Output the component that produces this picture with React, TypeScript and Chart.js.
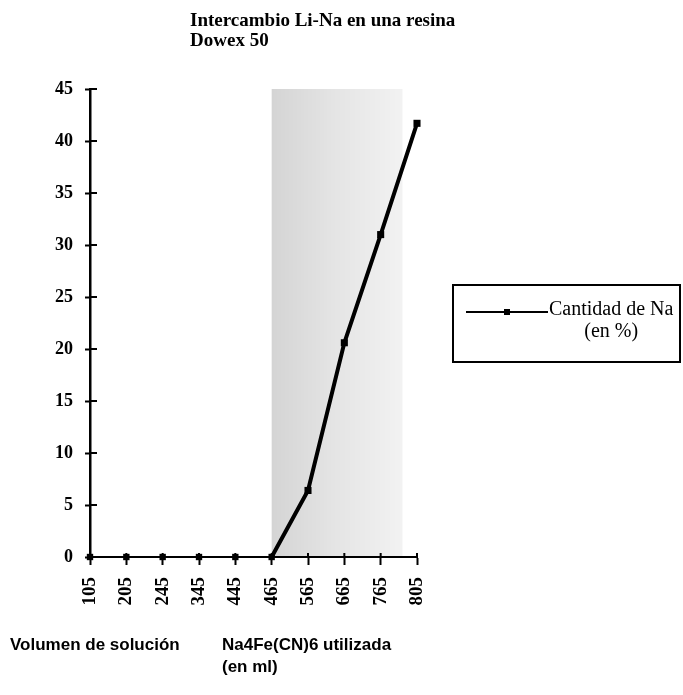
import { useEffect, useRef } from "react";
import { Chart, registerables } from "chart.js";

Chart.register(...registerables);

const categories = ["105", "205", "245", "345", "445", "465", "565", "665", "765", "805"];
const naPercent = [0, 0, 0, 0, 0, 0, 6.4, 20.6, 31, 41.7];
const yMin = 0;
const yMax = 45;
const yStep = 5;
const titleLines = ["Intercambio Li-Na en una resina", "Dowex 50"];
const legendLines = ["Cantidad de Na", "(en %)"];
const xTitleLeft = "Volumen de solución";
const xTitleRight = ["Na4Fe(CN)6 utilizada", "(en ml)"];
// shaded (scanned grey) band, in category-index units
const shadeFrom = 5;
const shadeTo = 8.6;

const W = 683;
const H = 695;

export default function App() {
  const ref = useRef<HTMLCanvasElement | null>(null);

  useEffect(() => {
    const canvas = ref.current;
    if (!canvas) return;

    const shadePlugin = {
      id: "shade",
      beforeDatasetsDraw(chart: any) {
        const { ctx, scales } = chart;
        const x = scales.x;
        const y = scales.y;
        const x0 = x.getPixelForValue(shadeFrom);
        const x1 = x.getPixelForValue(shadeTo);
        const y0 = y.getPixelForValue(yMax);
        const y1 = y.getPixelForValue(yMin);
        const g = ctx.createLinearGradient(x0, 0, x1, 0);
        g.addColorStop(0, "rgba(0,0,0,0.17)");
        g.addColorStop(0.5, "rgba(0,0,0,0.10)");
        g.addColorStop(1, "rgba(0,0,0,0.05)");
        ctx.save();
        ctx.fillStyle = g;
        ctx.fillRect(x0, y0, x1 - x0, y1 - y0);
        ctx.restore();
      },
      afterDraw(chart: any) {
        // inner half of the crossing tick marks
        const { ctx, scales } = chart;
        const x = scales.x;
        const y = scales.y;
        ctx.save();
        ctx.strokeStyle = "#000";
        ctx.lineWidth = 2;
        ctx.beginPath();
        const ax = x.left;
        for (let v = yMin; v <= yMax; v += yStep) {
          const py = y.getPixelForValue(v);
          ctx.moveTo(ax, py);
          ctx.lineTo(ax + 7, py);
        }
        const ay = y.bottom;
        for (let i = 0; i < categories.length; i++) {
          const px = x.getPixelForValue(i);
          ctx.moveTo(px, ay);
          ctx.lineTo(px, ay - 4);
        }
        ctx.stroke();
        ctx.restore();
      },
    };

    const chart = new Chart(canvas, {
      type: "line",
      data: {
        labels: categories,
        datasets: [
          {
            label: legendLines.join(" "),
            data: naPercent,
            borderColor: "#000",
            backgroundColor: "#000",
            borderWidth: 3.5,
            pointStyle: "rect",
            pointRadius: (c: any) => (c.raw === 0 ? 4.5 : 5),
            pointBorderWidth: 0,
            tension: 0,
            clip: false,
            segment: {
              borderWidth: (c: any) =>
                c.p0.parsed.y === 0 && c.p1.parsed.y === 0 ? 1.5 : 4,
            },
          },
        ],
      },
      plugins: [shadePlugin],
      options: {
        responsive: false,
        animation: false,
        devicePixelRatio: 1,
        layout: { padding: { left: 0, top: 89, right: 266, bottom: 0 } },
        plugins: {
          legend: { display: false },
          tooltip: { enabled: false },
          title: { display: false },
        },
        scales: {
          x: {
            type: "category",
            offset: false,
            grid: {
              display: true,
              drawOnChartArea: false,
              drawTicks: true,
              tickLength: 8,
              tickWidth: 2,
              color: "#000",
            },
            border: { display: true, color: "#000", width: 2 },
            ticks: {
              color: "#000",
              minRotation: 90,
              maxRotation: 90,
              padding: 12,
              autoSkip: false,
              font: { family: "'Liberation Serif', serif", size: 19, weight: "bold" },
            },
            afterFit(s: any) {
              s.height = H - 557;
            },
          },
          y: {
            min: yMin,
            max: yMax,
            grid: {
              display: true,
              drawOnChartArea: false,
              drawTicks: true,
              tickLength: 5,
              tickWidth: 2,
              color: "#000",
            },
            border: { display: true, color: "#000", width: 2.5 },
            ticks: {
              stepSize: yStep,
              color: "#000",
              padding: 12,
              font: { family: "'Liberation Serif', serif", size: 18, weight: "bold" },
            },
            afterFit(s: any) {
              s.width = 90;
            },
          },
        },
      },
    });

    return () => chart.destroy();
  }, []);

  const serif = "'Liberation Serif', 'Times New Roman', serif";
  const sans = "'Liberation Sans', Arial, sans-serif";

  return (
    <div style={{ position: "absolute", left: 0, top: 0, width: W, height: H, background: "#fff" }}>
      <canvas ref={ref} width={W} height={H} style={{ position: "absolute", left: 0, top: 0, width: W, height: H }} />
      <div
        style={{
          position: "absolute",
          left: 190,
          top: 10,
          fontFamily: serif,
          fontWeight: "bold",
          fontSize: 19,
          lineHeight: "20px",
          color: "#000",
          whiteSpace: "nowrap",
        }}
      >
        {titleLines.map((t) => (
          <div key={t}>{t}</div>
        ))}
      </div>

      <div
        style={{
          position: "absolute",
          left: 452,
          top: 284,
          width: 229,
          height: 79,
          border: "2px solid #000",
          boxSizing: "border-box",
        }}
      >
        <div style={{ position: "absolute", left: 12, top: 25, width: 82, height: 2, background: "#000" }} />
        <div style={{ position: "absolute", left: 50, top: 23, width: 6, height: 6, background: "#000" }} />
        <div
          style={{
            position: "absolute",
            left: 95,
            top: 11,
            fontFamily: serif,
            fontSize: 20,
            lineHeight: "22px",
            color: "#000",
            whiteSpace: "nowrap",
            textAlign: "center",
          }}
        >
          <div>{legendLines[0]}</div>
          <div>{legendLines[1]}</div>
        </div>
      </div>

      <div
        style={{
          position: "absolute",
          left: 10,
          top: 634,
          fontFamily: sans,
          fontWeight: "bold",
          fontSize: 17,
          lineHeight: "22px",
          color: "#000",
          whiteSpace: "nowrap",
        }}
      >
        {xTitleLeft}
      </div>
      <div
        style={{
          position: "absolute",
          left: 222,
          top: 634,
          fontFamily: sans,
          fontWeight: "bold",
          fontSize: 17,
          lineHeight: "22px",
          color: "#000",
          whiteSpace: "nowrap",
        }}
      >
        {xTitleRight.map((t) => (
          <div key={t}>{t}</div>
        ))}
      </div>
    </div>
  );
}
